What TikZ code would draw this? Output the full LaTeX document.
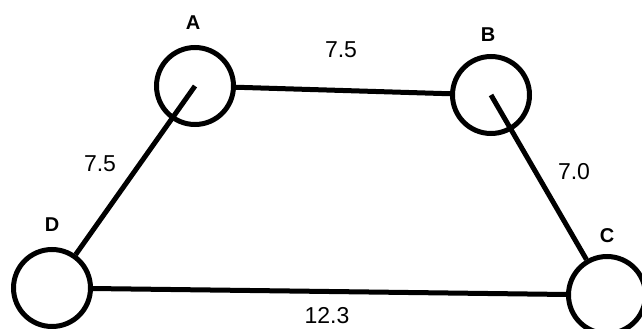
\documentclass[tikz,border=0pt]{standalone}
\usepackage{fontspec}
\setmainfont{Liberation Sans}
\begin{document}
\begin{tikzpicture}[x=1pt,y=-1pt,
  vertex/.style={circle,draw=black,line width=5pt,minimum size=77pt,inner sep=0pt},
  edge/.style={line width=5pt,black},
  lbl/.style={font=\fontsize{20}{20}\selectfont\bfseries,inner sep=0pt},
  num/.style={font=\fontsize{23}{23}\selectfont,inner sep=0pt}]
\useasboundingbox (0,0) rectangle (642,329);
\fill[white] (0,0) rectangle (642,329);
\node[vertex] (A) at (195,86) {};
\node[vertex] (B) at (491,95) {};
\node[vertex] (D) at (52,288) {};
\node[vertex] (C) at (607,295) {};
\draw[edge] (A) -- (B);
\draw[edge] (D) -- (C);
\draw[edge] (A.center) -- (D);
\draw[edge] (B.center) -- (C);
\node[lbl] (la) at (193,23) {A};
\node[lbl] (lb) at (488,35) {B};
\node[lbl] (ld) at (52,225) {D};
\node[lbl] (lc) at (607,236) {C};
\node[num] (nab) at (341,50) {7.5};
\node[num] (nad) at (100,164) {7.5};
\node[num] (nbc) at (574,172) {7.0};
\node[num] (ndc) at (327,316) {12.3};
\end{tikzpicture}
\end{document}
